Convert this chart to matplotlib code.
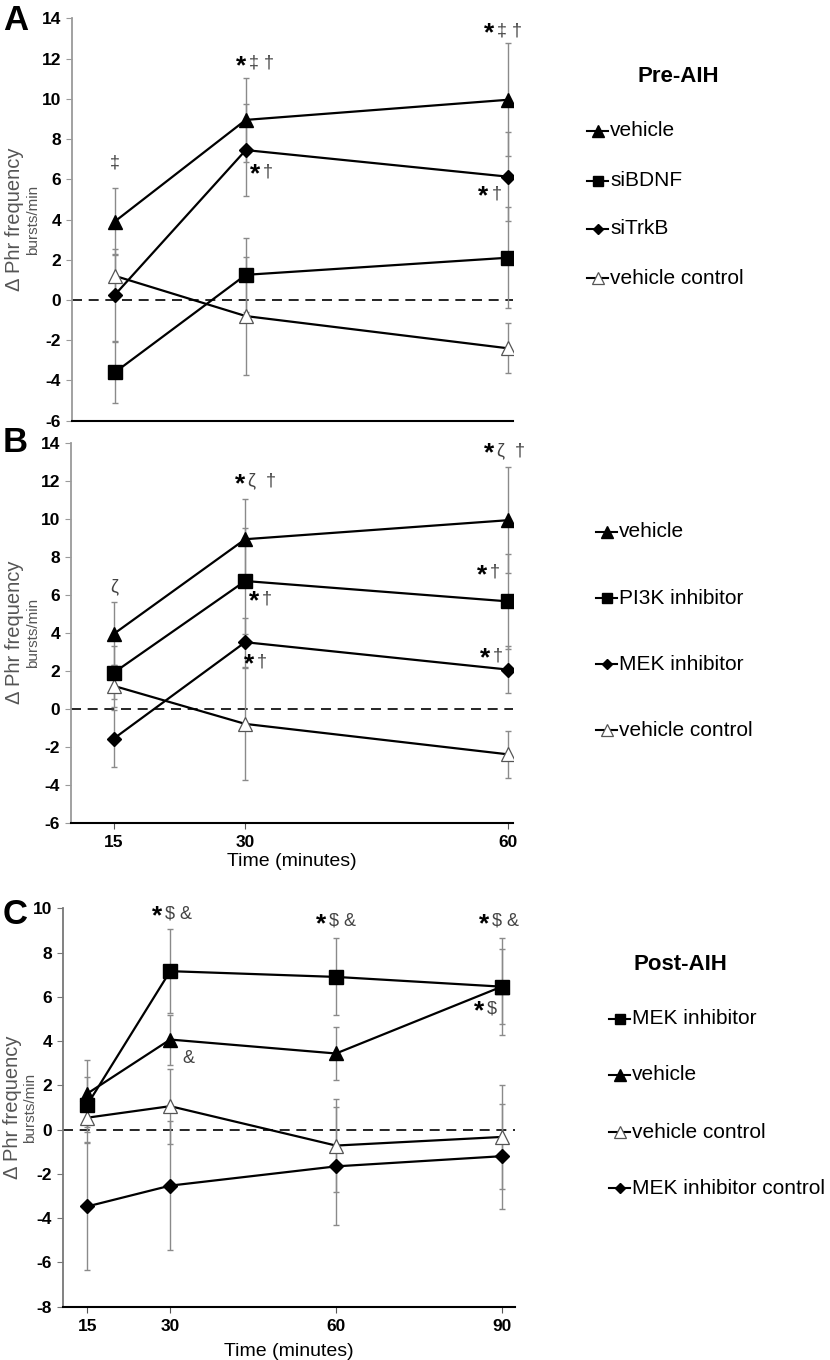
import matplotlib
matplotlib.use('Agg')
import matplotlib.pyplot as plt
from matplotlib.lines import Line2D

plt.rcParams['font.family'] = ['Liberation Sans', 'DejaVu Sans']
plt.rcParams['axes.unicode_minus'] = False

# ---- data (mean and SEM) ----
times_ab = [15, 30, 60]
times_c = [15, 30, 60, 90]

a_vehicle = [3.9, 8.95, 9.95]
a_vehicle_err = [1.68, 2.1, 2.8]
a_sibdnf = [-3.6, 1.25, 2.1]
a_sibdnf_err = [1.5, 1.85, 2.5]
a_sitrkb = [0.25, 7.45, 6.13]
a_sitrkb_err = [2.3, 2.3, 2.2]
a_vctrl = [1.2, -0.8, -2.4]
a_vctrl_err = [1.1, 2.95, 1.25]

b_vehicle = [3.94, 8.92, 9.92]
b_vehicle_err = [1.65, 2.1, 2.8]
b_pi3k = [1.9, 6.72, 5.65]
b_pi3k_err = [1.4, 2.8, 2.5]
b_mek = [-1.57, 3.5, 2.06]
b_mek_err = [1.5, 1.3, 1.25]
b_vctrl = [1.2, -0.8, -2.4]
b_vctrl_err = [1.1, 2.95, 1.25]

c_mek = [1.13, 7.16, 6.9, 6.46]
c_mek_err = [1.25, 1.9, 1.74, 2.2]
c_vehicle = [1.63, 4.07, 3.44, 6.46]
c_vehicle_err = [1.5, 1.13, 1.18, 1.7]
c_vctrl = [0.54, 1.06, -0.72, -0.33]
c_vctrl_err = [1.1, 1.7, 2.1, 2.33]
c_mekctrl = [-3.47, -2.53, -1.66, -1.2]
c_mekctrl_err = [2.86, 2.93, 2.67, 2.37]

W, H = 830, 1360
fig = plt.figure(figsize=(W / 100, H / 100), dpi=100)


def fx(px):
    return px / W


def fy(py):
    return 1 - py / H


def axes_px(left, right, top, bottom):
    return fig.add_axes([fx(left), fy(bottom), fx(right) - fx(left), fy(top) - fy(bottom)])


styles = {
    'tri': dict(marker='^', ms=10, mfc='black', mec='black'),
    'sq': dict(marker='s', ms=9.5, mfc='black', mec='black'),
    'dia': dict(marker='D', ms=7, mfc='black', mec='black'),
    'open': dict(marker='^', ms=10, mfc='white', mec='#555555', mew=0.9),
}


def series(ax, x, y, err, st):
    ax.errorbar(x, y, yerr=err, fmt='none', ecolor='#8a8a8a', elinewidth=1.0,
                capsize=2.5, capthick=1.0, zorder=2)
    ax.plot(x, y, color='black', lw=1.6, zorder=3, **styles[st])


def style_axes(ax, spine_col):
    for s in ['top', 'right']:
        ax.spines[s].set_visible(False)
    ax.spines['left'].set_color(spine_col)
    ax.spines['left'].set_linewidth(1.3)
    ax.spines['bottom'].set_color('black')
    ax.spines['bottom'].set_linewidth(1.5)
    ax.tick_params(axis='y', direction='out', length=4, color=spine_col,
                   labelsize=12.5, pad=4)
    ax.tick_params(axis='x', direction='out', length=4, color='#555555',
                   labelsize=12.5, pad=5)
    for lab in ax.get_yticklabels() + ax.get_xticklabels():
        lab.set_fontweight('bold')
    ax.axhline(0, color='black', lw=1.2, ls=(0, (6, 4)), zorder=1)


def mark(ax, x, y, rest, size=13):
    ax.annotate('*', (x, y), xytext=(0, -1), textcoords='offset points',
                ha='right', va='center', fontsize=19, fontweight='bold',
                color='black')
    ax.annotate(rest, (x, y), xytext=(2, 1), textcoords='offset points',
                ha='left', va='center', fontsize=size, color='#444444')


def legend(x0, items, ys, text_x):
    for (label, st), y in zip(items, ys):
        fig.add_artist(Line2D([fx(x0), fx(x0 + 21)], [fy(y), fy(y)],
                              transform=fig.transFigure, color='black', lw=1.5))
        kw = dict(styles[st])
        kw['ms'] = kw['ms'] * 0.8
        fig.add_artist(Line2D([fx(x0 + 10.5)], [fy(y)], transform=fig.transFigure,
                              color='black', lw=0, **kw))
        fig.text(fx(text_x), fy(y), label, fontsize=15, va='center', ha='left')


def ylabel(ax_top, ax_bot, x_main, x_sub):
    yc = (fy(ax_top) + fy(ax_bot)) / 2
    fig.text(fx(x_main), yc, '\u0394 Phr frequency', rotation=90, fontsize=14.5,
             color='#555555', ha='center', va='center')
    fig.text(fx(x_sub), yc, 'bursts/min', rotation=90, fontsize=11,
             color='#555555', ha='center', va='center')


# ---- Panel A ----
axA = axes_px(72, 513, 18.3, 420.7)
series(axA, times_ab, a_vctrl, a_vctrl_err, 'open')
series(axA, times_ab, a_sibdnf, a_sibdnf_err, 'sq')
series(axA, times_ab, a_sitrkb, a_sitrkb_err, 'dia')
series(axA, times_ab, a_vehicle, a_vehicle_err, 'tri')
axA.set_xlim(10.1, 60.6)
axA.set_ylim(-6, 14)
axA.set_yticks(range(-6, 15, 2))
axA.set_xticks([])
style_axes(axA, '#9a9a9a')
axA.annotate('\u2021', (15, 6.8), ha='center', va='center', fontsize=13, color='#444444')
mark(axA, 30, 11.7, '\u2021 \u2020')
mark(axA, 31.6, 6.3, '\u2020')
mark(axA, 58.4, 13.3, '\u2021 \u2020')
mark(axA, 57.8, 5.2, '\u2020')

# ---- Panel B ----
axB = axes_px(71, 513, 442.7, 822.7)
series(axB, times_ab, b_vctrl, b_vctrl_err, 'open')
series(axB, times_ab, b_mek, b_mek_err, 'dia')
series(axB, times_ab, b_pi3k, b_pi3k_err, 'sq')
series(axB, times_ab, b_vehicle, b_vehicle_err, 'tri')
axB.set_xlim(10.1, 60.6)
axB.set_ylim(-6, 14)
axB.set_yticks(range(-6, 15, 2))
axB.set_xticks(times_ab)
style_axes(axB, '#9a9a9a')
axB.set_xlabel('Time (minutes)', fontsize=14, labelpad=2)
axB.annotate('\u03b6', (15, 6.4), ha='center', va='center', fontsize=13, color='#444444')
mark(axB, 30, 11.9, '\u03b6  \u2020')
mark(axB, 31.6, 5.7, '\u2020')
mark(axB, 31.0, 2.4, '\u2020')
mark(axB, 58.4, 13.5, '\u03b6  \u2020')
mark(axB, 57.6, 7.1, '\u2020')
mark(axB, 58.0, 2.7, '\u2020')

# ---- Panel C ----
axC = axes_px(63, 515, 908.3, 1306.7)
series(axC, times_c, c_vctrl, c_vctrl_err, 'open')
series(axC, times_c, c_mekctrl, c_mekctrl_err, 'dia')
series(axC, times_c, c_vehicle, c_vehicle_err, 'tri')
series(axC, times_c, c_mek, c_mek_err, 'sq')
axC.set_xlim(10.6, 92.4)
axC.set_ylim(-8, 10)
axC.set_yticks(range(-8, 11, 2))
axC.set_xticks(times_c)
style_axes(axC, '#777777')
axC.set_xlabel('Time (minutes)', fontsize=14, labelpad=6)
mark(axC, 28.6, 9.7, '\\$ &')
mark(axC, 58.3, 9.35, '\\$ &')
mark(axC, 87.8, 9.35, '\\$ &')
mark(axC, 86.8, 5.4, '\\$')
axC.annotate('&', (33.2, 3.2), ha='center', va='center', fontsize=13, color='#444444')

# ---- y labels, panel letters, legends ----
ylabel(18.3, 420.7, 15, 33)
ylabel(442.7, 822.7, 15, 33)
ylabel(908.3, 1306.7, 12, 30)

fig.text(fx(3), fy(21), 'A', fontsize=25, fontweight='bold', va='center')
fig.text(fx(3), fy(443), 'B', fontsize=25, fontweight='bold', va='center')
fig.text(fx(3), fy(914), 'C', fontsize=25, fontweight='bold', va='center')

fig.text(fx(678), fy(77), 'Pre-AIH', fontsize=16, fontweight='bold', ha='center', va='center')
fig.text(fx(680), fy(965), 'Post-AIH', fontsize=16, fontweight='bold', ha='center', va='center')

legend(587, [('vehicle', 'tri'), ('siBDNF', 'sq'), ('siTrkB', 'dia'),
             ('vehicle control', 'open')], [131, 181, 229, 278], 610)
legend(596, [('vehicle', 'tri'), ('PI3K inhibitor', 'sq'), ('MEK inhibitor', 'dia'),
             ('vehicle control', 'open')], [532, 598, 664, 730], 619)
legend(609, [('MEK inhibitor', 'sq'), ('vehicle', 'tri'), ('vehicle control', 'open'),
             ('MEK inhibitor control', 'dia')], [1019, 1075, 1132, 1188], 632)

fig.savefig('out.png', dpi=100)
